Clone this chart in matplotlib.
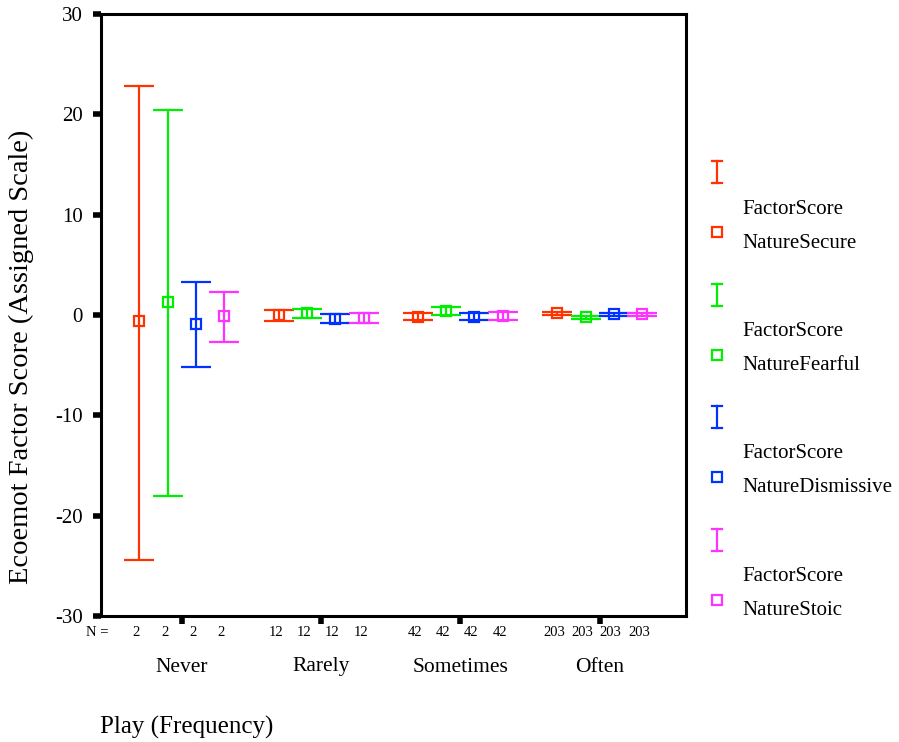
import matplotlib.pyplot as plt
import numpy as np

plt.rcParams['font.family'] = ['Liberation Serif', 'DejaVu Serif']

categories = ['Never', 'Rarely', 'Sometimes', 'Often']
series = ['NatureSecure', 'NatureFearful', 'NatureDismissive', 'NatureStoic']
colors = ['#ff3300', '#00ee00', '#0033ff', '#ff33ff']
counts = [2, 12, 42, 203]

# mean and 95% CI bounds per series, one value per category
means = {
    'NatureSecure':     [-0.6, 0.0, -0.15, 0.15],
    'NatureFearful':    [1.3, 0.15, 0.35, -0.2],
    'NatureDismissive': [-0.9, -0.35, -0.15, 0.05],
    'NatureStoic':      [-0.1, -0.3, -0.1, 0.05],
}
lower = {
    'NatureSecure':     [-24.4, -0.55, -0.5, 0.0],
    'NatureFearful':    [-18.0, -0.3, 0.0, -0.35],
    'NatureDismissive': [-5.2, -0.8, -0.5, -0.1],
    'NatureStoic':      [-2.7, -0.8, -0.45, -0.1],
}
upper = {
    'NatureSecure':     [22.8, 0.45, 0.2, 0.3],
    'NatureFearful':    [20.4, 0.6, 0.75, -0.05],
    'NatureDismissive': [3.3, 0.1, 0.2, 0.2],
    'NatureStoic':      [2.3, 0.15, 0.25, 0.2],
}

W, H = 899, 742
fig = plt.figure(figsize=(W / 100, H / 100), dpi=100)
ax = fig.add_axes([101 / W, (H - 616) / H, (686 - 101) / W, (616 - 14) / H])

offsets = [-0.305, -0.1, 0.1, 0.305]
xc = np.arange(len(categories))
for s, col, off in zip(series, colors, offsets):
    m = np.array(means[s])
    err = [m - np.array(lower[s]), np.array(upper[s]) - m]
    ax.errorbar(xc + off, m, yerr=err, fmt='s', color=col, mfc='none', mec=col,
                ms=7, mew=1.6, elinewidth=1.6, capsize=10.5, capthick=1.6)

ax.set_xlim(-0.58, 3.62)
ax.set_ylim(-30, 30)
ax.set_yticks(range(-30, 31, 10))
ax.set_yticklabels([str(v) for v in range(-30, 31, 10)], fontsize=15)
ax.set_xticks(xc)
ax.set_xticklabels([])
ax.tick_params(axis='both', direction='out', length=6, width=4, color='black', pad=7)
for sp in ax.spines.values():
    sp.set_linewidth(2.2)

ax.set_ylabel('Ecoemot Factor Score (Assigned Scale)', fontsize=20.5)
ax.yaxis.set_label_coords(-0.115, 0.43)

# N row, category names and x title, placed in figure pixel space
ov = fig.add_axes([0, 0, 1, 1])
ov.set_xlim(0, W)
ov.set_ylim(H, 0)
ov.axis('off')
ov.patch.set_alpha(0)

def to_px(x):
    return 101 + (x + 0.58) / 4.2 * (686 - 101)

ov.text(97, 633, 'N =', fontsize=10.5, ha='center', va='center')
for i, n in enumerate(counts):
    for off in offsets:
        ov.text(to_px(i + off) - 3, 633, str(n), fontsize=10.5, ha='center', va='center')
    ov.text(to_px(i), 667, categories[i], fontsize=15.5, ha='center', va='center')
ov.text(100, 727, 'Play (Frequency)', fontsize=18, ha='left', va='center')

# legend: error-bar glyph, then two-line label with box marker
for k, (s, col) in enumerate(zip(series, colors)):
    y0 = 172 + k * 122.5
    ov.plot([717, 717], [y0 - 11, y0 + 11], color=col, lw=1.6)
    ov.plot([712, 722], [y0 - 11, y0 - 11], color=col, lw=1.6)
    ov.plot([712, 722], [y0 + 11, y0 + 11], color=col, lw=1.6)
    ov.plot([717], [y0 + 60], 's', color=col, mfc='none', ms=7, mew=1.6)
    ov.text(742, y0 + 37, 'FactorScore', fontsize=15, ha='left', va='center')
    ov.text(742, y0 + 71, s, fontsize=15, ha='left', va='center')

fig.savefig('out.png', dpi=100)
